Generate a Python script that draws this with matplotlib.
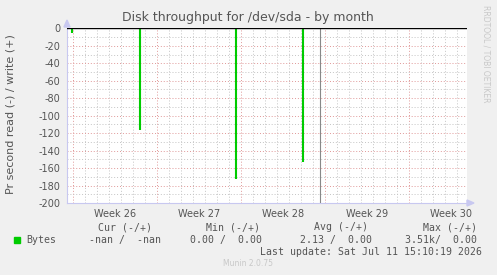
import matplotlib
matplotlib.use("Agg")
import matplotlib.pyplot as plt
import numpy as np

# days counted from the start of week 26
weeks = ["Week 26", "Week 27", "Week 28", "Week 29", "Week 30"]
spike_days = [-0.05, 5.57, 13.6, 19.2]
spike_vals = [-5, -117, -172, -153]
gap_day = 20.63
yticks = list(range(-200, 1, 20))

legend_head = ["Cur (-/+)", "Min (-/+)", "Avg (-/+)", "Max (-/+)"]
legend_vals = ["-nan /  -nan", "0.00 /  0.00", "2.13 /  0.00", "3.51k/  0.00"]
last_update = "Last update: Sat Jul 11 15:10:19 2026"

W, H = 497, 275
fig = plt.figure(figsize=(W / 100, H / 100), dpi=100)
fig.patch.set_facecolor("#f0f0f0")

def px(x, y):
  return x / W, 1 - y / H

x0, x1, ytop, ybot = 67, 467, 28.3, 203
ax = fig.add_axes([x0 / W, 1 - ybot / H, (x1 - x0) / W, (ybot - ytop) / H])
ax.set_facecolor("white")

xmin = -(72.7 - x0) / 12
xmax = xmin + (x1 - x0) / 12
ax.set_xlim(xmin, xmax)
ax.set_ylim(-200, 0)

# grid
for d in np.arange(-1, 36):
  if xmin < d < xmax:
    major = d % 7 == 0
    ax.axvline(d, color="#e09898" if major else "#c4c4c4", lw=0.7,
               ls=(0, (1, 2)), zorder=1)
for v in range(-200, 1, 10):
  major = v % 20 == 0
  ax.axhline(v, color="#e09898" if major else "#c4c4c4", lw=0.7,
             ls=(0, (1, 2)), zorder=1)

ax.vlines(spike_days, 0, spike_vals, color="#00cc00", lw=1.5, zorder=3)
ax.vlines([gap_day], 0, -200, color="#888888", lw=0.8, zorder=3)
ax.axhline(0, color="black", lw=1.0, zorder=4)

for s in ["top", "right"]:
  ax.spines[s].set_visible(False)
for s in ["left", "bottom"]:
  ax.spines[s].set_color("#c8c8f0")
  ax.spines[s].set_linewidth(0.8)

ax.set_yticks(yticks)
ax.set_yticklabels([str(v) for v in yticks])
ax.tick_params(axis="y", length=0, pad=5, labelsize=7, labelcolor="#555555")
ax.set_xticks([7 * i + 3.5 for i in range(len(weeks))])
ax.set_xticklabels(weeks)
ax.tick_params(axis="x", length=0, pad=4, labelsize=7, labelcolor="#555555")

# axis arrows
fig.patches.append(plt.Polygon([px(64, 27), px(70, 27), px(67, 20)], closed=True,
                               transform=fig.transFigure, color="#c8c8f0"))
fig.patches.append(plt.Polygon([px(467, 200), px(467, 206), px(474, 203)], closed=True,
                               transform=fig.transFigure, color="#c8c8f0"))

fig.text(*px(248, 18), "Disk throughput for /dev/sda - by month", ha="center",
         va="center", fontsize=9, color="#555555")
fig.text(*px(11, 114), "Pr second read (-) / write (+)", ha="center", va="center",
         rotation=90, fontsize=8, color="#555555")
fig.text(*px(486, 54), "RRDTOOL / TOBI OETIKER", ha="center", va="center",
         rotation=270, fontsize=5.5, color="#c8c8c8")

mono = dict(family="DejaVu Sans Mono", fontsize=7.1, color="#555555", va="center")
head_right = [152, 260, 368, 477]
val_right = [161, 262, 372, 477]
for t, xr in zip(legend_head, head_right):
  fig.text(*px(xr, 227), t, ha="right", **mono)
for t, xr in zip(legend_vals, val_right):
  fig.text(*px(xr, 240), t, ha="right", **mono)
fig.patches.append(plt.Rectangle(px(14, 243), 6 / W, 6 / H, transform=fig.transFigure,
                                 color="#00cc00"))
fig.text(*px(26, 240), "Bytes", ha="left", **mono)
fig.text(*px(482, 252), last_update, ha="right", **mono)
fig.text(*px(248, 263), "Munin 2.0.75", ha="center", va="center", fontsize=5.5,
         color="#c8c8c8")

fig.savefig("out.png", dpi=100, facecolor=fig.get_facecolor())
